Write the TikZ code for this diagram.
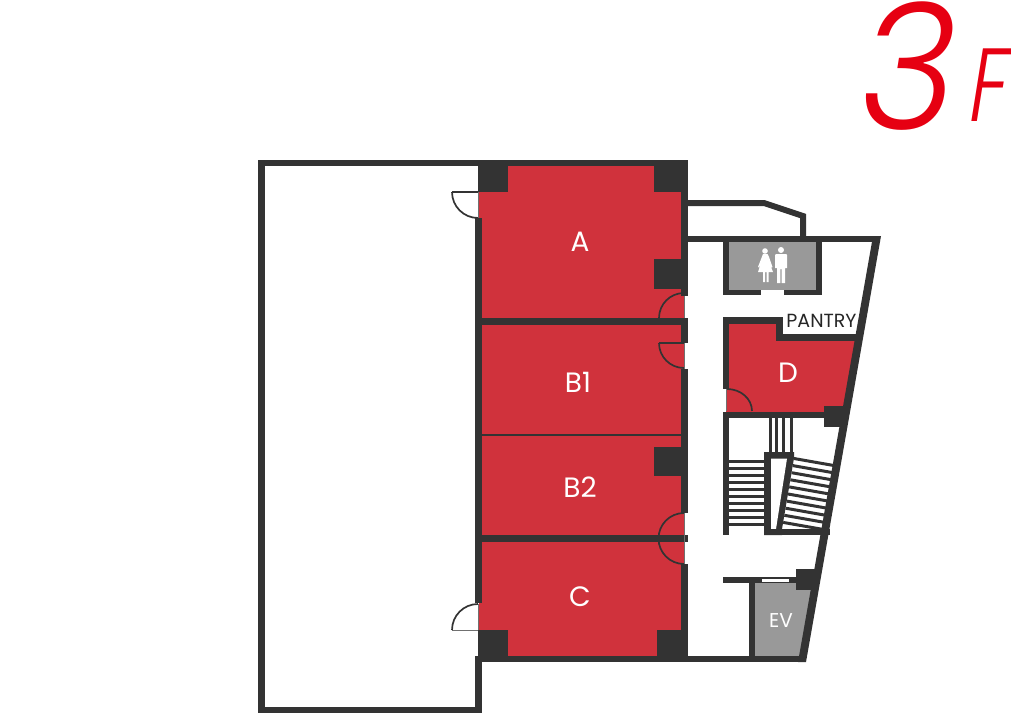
\documentclass[tikz,border=0pt]{standalone}
\usepackage{fontspec}
\setmainfont{Poppins}
\newfontfamily\planfont{Poppins}
\newfontfamily\floorfont[FakeSlant=0.16, FakeStretch=0.95]{Poppins Light}
\newfontfamily\unitfont[FakeSlant=0.16, FakeStretch=0.76]{Poppins Light}
\usepackage{tikz}
\definecolor{wallgray}{HTML}{333333}
\definecolor{roomred}{HTML}{D0323C}
\definecolor{liftgray}{HTML}{999999}
\definecolor{floorred}{HTML}{E60012}

\begin{document}
\begin{tikzpicture}[x=1pt, y=-1pt,
	wall/.style={fill=wallgray, draw=none},
	room/.style={fill=roomred, draw=none},
	service/.style={fill=liftgray, draw=none},
	sign/.style={fill=white, draw=none},
	door/.style={draw=wallgray, line width=1.7pt},
	jamb/.style={draw=wallgray!70, line width=0.7pt},
	tread/.style={draw=wallgray, line width=3pt},
	label/.style={font=\planfont\fontsize{28}{28}\selectfont, text=white, inner sep=0pt}]
	\useasboundingbox (0,0) rectangle (1011,714);

	% Rooms
	\fill[room] (479,166) rectangle (684,656);
	\fill[room] (726,324) -- (776,324) -- (776,341) -- (860,341) -- (846,412) -- (726,412) -- cycle;
	\fill[service] (729,242) rectangle (816,290);
	\fill[service] (755,583) -- (813,583) -- (800,656) -- (755,656) -- cycle;

	% Outer walls
	\fill[wall] (258,160) rectangle (688,166);
	\fill[wall] (258,160) rectangle (265,713);
	\fill[wall] (258,707) rectangle (482,713);
	\fill[wall] (475,218) rectangle (482,603);
	\fill[wall] (475,656) rectangle (482,713);
	\fill[wall] (478,656) rectangle (806,662);
	\fill[wall] (681,160) rectangle (688,295.5);
	\fill[wall] (681,318) rectangle (688,343);
	\fill[wall] (681,369) rectangle (688,513);
	\fill[wall] (681,564) rectangle (688,662);
	\fill[wall] (688,236) rectangle (878,242);
	\fill[wall] (881,236) -- (806,662) -- (798,662) -- (873,236) -- cycle;
	\draw[wallgray, line width=6pt, miter limit=4] (688,203) -- (764,203) -- (803,216) -- (803,238);

	% Room dividers
	\fill[wall] (479,318) rectangle (688,325);
	\fill[wall] (479,535) rectangle (687.5,542);
	\fill[wallgray] (482,434.3) rectangle (682,435.8);

	% Columns
	\fill[wall] (478,160) rectangle (508,192);
	\fill[wall] (654,160) rectangle (688,192);
	\fill[wall] (654,259) rectangle (688,289);
	\fill[wall] (654,447) rectangle (688,476);
	\fill[wall] (478,630) rectangle (508,662);
	\fill[wall] (657,630) rectangle (688,662);
	\fill[wall] (824,406) rectangle (843,427);
	\fill[wall] (796,569) rectangle (815,590);

	% Toilet walls
	\fill[wall] (723,242) rectangle (729,295);
	\fill[wall] (816,242) rectangle (822,295);
	\fill[wall] (723,289.5) rectangle (761,295);
	\fill[wall] (784,289.5) rectangle (822,295);

	% Room D walls
	\fill[wall] (723,317) rectangle (783,324);
	\fill[wall] (723,317) rectangle (729,389);
	\fill[wall] (776,317) rectangle (783,341);
	\fill[wall] (776,334) rectangle (862,341);
	\fill[wall] (723,411.5) rectangle (826,418);

	% Stairs
	\fill[wall] (723,412) rectangle (729,535);
	\foreach \xpos in {770.5, 776.5, 783.5, 791.5}
		\draw[tread] (\xpos,418) -- (\xpos,452);
	\foreach \ypos in {461.5, 468.5, ..., 525}
		\draw[tread] (729,\ypos) -- (764,\ypos);
	\foreach \step in {0,...,9}
		\draw[tread] ({794-0.17*7.1*\step},{458.5+7.1*\step}) -- ++(42,7.4);
	\fill[wall] (764,452) -- (794,452) -- (794,458) -- (782,529) -- (782,535) -- (764,535) -- cycle;
	\fill[white] (771,458.5) -- (787,458.5) -- (776,529) -- (771,529) -- cycle;
	\fill[wall] (764,529) rectangle (830,535);

	% Lift walls
	\fill[wall] (723,577) rectangle (797,583);
	\fill[wall] (749,577) rectangle (755,656);
	\fill[white] (762,578.5) rectangle (789,581.5);

	% Doors
	\draw[door] (452,192) -- (478,192);
	\draw[door] (452,192) arc[start angle=180, end angle=270, radius=26pt];
	\draw[jamb] (478,192) -- (478,218);
	\draw[jamb] (452,630) -- (478,630);
	\draw[door] (452,630) arc[start angle=180, end angle=90, radius=26pt];
	\draw[jamb] (478,604) -- (478,630);
	\draw[door] (659,318) arc[start angle=180, end angle=90, radius=25pt];
	\draw[jamb] (684.5,295.5) -- (684.5,318);
	\draw[door] (659,343) -- (684,343);
	\draw[door] (659,343) arc[start angle=180, end angle=270, radius=25pt];
	\draw[jamb] (684.5,343) -- (684.5,369);
	\draw[door] (684,513) arc[start angle=90, end angle=270, radius=25.5pt];
	\draw[jamb] (684.5,513) -- (684.5,564);
	\draw[door] (727,389) arc[start angle=90, end angle=0, x radius=25pt, y radius=22pt];
	\draw[jamb] (726.5,389) -- (726.5,411);

	% Toilet sign
	\fill[sign] (765,251) circle[radius=2.8pt];
	\fill[sign] (763,254) -- (767.5,254) -- (769,257) -- (772.5,267) -- (771.5,267.5) -- (769,262) -- (773,272) -- (768.5,272) -- (768.5,282) -- (766.5,282) -- (766.5,272) -- (765,272) -- (765,282) -- (763,282) -- (763,272) -- (758,272) -- (761.5,262) -- (759,267.5) -- (758,267) -- cycle;
	\fill[sign] (781,250) circle[radius=3pt];
	\fill[sign] (776,254) -- (786,254) -- (787,255) -- (787,268) -- (785,268) -- (785,283) -- (781.7,283) -- (781.7,269) -- (780.3,269) -- (780.3,283) -- (777,283) -- (777,268) -- (775,268) -- (775,255) -- cycle;

	% Labels
	\node[label] (roomA) at (580,242) {A};
	\node[label] (roomB1) at (578,382) {B1};
	\node[label] (roomB2) at (580,487) {B2};
	\node[label] (roomC) at (580,597) {C};
	\node[label] (roomD) at (788,373) {D};
	\node[label, font=\planfont\fontsize{20}{20}\selectfont] (lift) at (781,621) {EV};
	\node[inner sep=0pt, text=black!85, font=\planfont\fontsize{19}{19}\selectfont] (pantry) at (821.5,321) {PANTRY};
	\node[inner sep=0pt, text=floorred, font=\floorfont\fontsize{175}{175}\selectfont] (floorNum) at (901,66.5) {3};
	\node[inner sep=0pt, text=floorred, font=\unitfont\fontsize{104}{104}\selectfont] (floorUnit) at (985,85) {F};
\end{tikzpicture}
\end{document}
